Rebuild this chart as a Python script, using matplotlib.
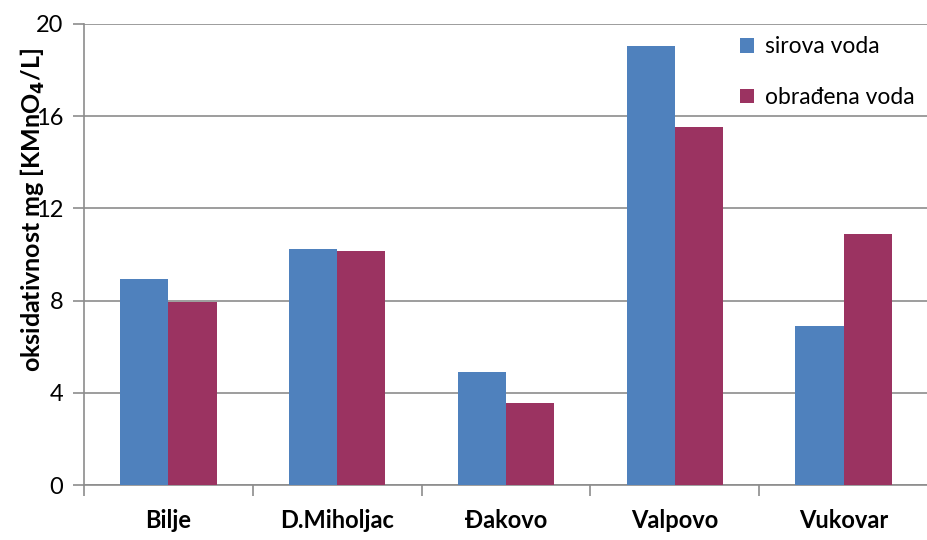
import numpy as np
import matplotlib.pyplot as plt

# Data
categories = ['Bilje', 'D.Miholjac', 'Đakovo', 'Valpovo', 'Vukovar']
sirova = [8.95, 10.25, 4.9, 19.05, 6.9]
obradena = [7.95, 10.15, 3.55, 15.55, 10.9]
series_labels = ['sirova voda', 'obrađena voda']
yticks = [0, 4, 8, 12, 16, 20]

plt.rcParams['font.family'] = ['Lato', 'DejaVu Sans']

fig = plt.figure(figsize=(9.28, 5.4), dpi=100)
ax = fig.add_axes([84 / 928, 1 - 485 / 540, 1 - 84 / 928, (485 - 24) / 540])

x = np.arange(len(categories))
w = 0.286
ax.bar(x - w / 2, sirova, width=w, color='#4f81bd', label=series_labels[0], zorder=3)
ax.bar(x + w / 2, obradena, width=w, color='#9b3361', label=series_labels[1], zorder=3)

ax.set_xlim(-0.5, len(categories) - 0.5)
ax.set_ylim(0, 20)
ax.set_yticks(yticks)
ax.tick_params(axis='y', labelsize=17, length=8, color='#8c8c8c', width=1.2, pad=7)
ax.yaxis.grid(True, color='#8c8c8c', linewidth=1.2, zorder=0)

# category labels centred, tick marks between categories
ax.set_xticks(x)
ax.set_xticklabels(categories, fontsize=17, fontweight='bold')
ax.tick_params(axis='x', length=0, pad=17)
ax.set_xticks(np.arange(-0.5, len(categories) + 0.5, 1), minor=True)
ax.tick_params(axis='x', which='minor', length=8, color='#8c8c8c', width=1.2, direction='out')

for s in ['top', 'right']:
    ax.spines[s].set_visible(False)
for s in ['left', 'bottom']:
    ax.spines[s].set_color('#8c8c8c')
    ax.spines[s].set_linewidth(1.2)

fig.text(33 / 928, 1 - 210 / 540, 'oksidativnost mg [KMnO$_\\mathbf{4}$/L]', rotation=90,
         ha='center', va='center', fontsize=18, fontweight='bold')

ax.legend(loc='upper left', bbox_to_anchor=(0.753, 1.018),
          frameon=False, fontsize=16.5, handlelength=0.6, handleheight=0.6, labelspacing=1.3,
          handletextpad=0.5)

plt.savefig('out.png')
plt.close()
